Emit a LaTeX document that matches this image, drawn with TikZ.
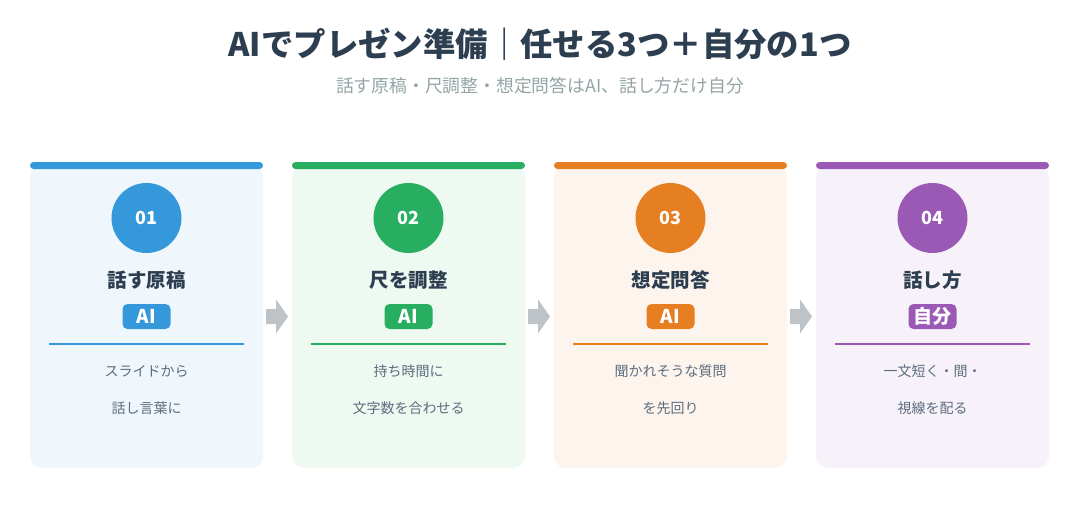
\documentclass[tikz,border=0pt]{standalone}
\usepackage{fontspec}
\setmainfont{Noto Sans CJK JP}
\usetikzlibrary{calc}
\definecolor{cA}{HTML}{3498DB}
\definecolor{cB}{HTML}{27AE60}
\definecolor{cC}{HTML}{E67E22}
\definecolor{cD}{HTML}{9B59B6}
\definecolor{titlec}{HTML}{2C3E50}
\definecolor{subc}{HTML}{95A5A6}
\definecolor{descc}{HTML}{5D6D7E}
\definecolor{arrc}{HTML}{BDC3C7}
\tikzset{
  cardtitle/.style={text=titlec,font=\bfseries\fontsize{19.5}{22}\selectfont,inner sep=0pt},
  badge/.style={fill=#1,text=white,rounded corners=5pt,minimum width=48pt,minimum height=25pt,inner sep=0pt,font=\bfseries\fontsize{19}{21}\selectfont},
  numcirc/.style={circle,fill=#1,text=white,minimum size=70pt,inner sep=0pt,font=\bfseries\fontsize{18}{20}\selectfont},
  desc/.style={text=descc,font=\fontsize{14}{16}\selectfont,inner sep=0pt},
  blockarrow/.style={fill=arrc,draw=none}
}
\newcommand{\card}[8]{%
  \pgfmathsetmacro{\L}{30+262*#1}
  \pgfmathsetmacro{\C}{\L+116.5}
  \fill[#2!8!white,rounded corners=12pt] (\L,165) rectangle (\L+233,468);
  \node[minimum width=233pt,minimum height=303pt,inner sep=0pt] (#8) at (\C,316.5) {};
  \fill[#2,rounded corners=3.5pt] (\L,162) rectangle (\L+233,169);
  \node[numcirc=#2] (#8n) at (\C,218) {#3};
  \node[cardtitle] (#8t) at (\C,280) {#4};
  \node[badge=#2] (#8b) at (\C,316.5) {#5};
  \draw[#2,line width=1.5pt] (\L+19,344) -- (\L+214,344);
  \node[desc] (#8d1) at (\C,371) {#6};
  \node[desc] (#8d2) at (\C,408) {#7};
}
\begin{document}
\begin{tikzpicture}[x=1pt,y=-1pt]
\useasboundingbox (0,0) rectangle (1080,504);
\fill[white] (0,0) rectangle (1080,504);
\node[text=titlec,font=\bfseries\fontsize{32.4}{36}\selectfont,inner sep=0pt] (title) at (540,44) {AIでプレゼン準備｜任せる3つ＋自分の1つ};
\node[text=subc,font=\fontsize{17.8}{20}\selectfont,inner sep=0pt] (sub) at (540,86) {話す原稿・尺調整・想定問答はAI、話し方だけ自分};
\card{0}{cA}{01}{話す原稿}{AI}{スライドから}{話し言葉に}{k1}
\card{1}{cB}{02}{尺を調整}{AI}{持ち時間に}{文字数を合わせる}{k2}
\card{2}{cC}{03}{想定問答}{AI}{聞かれそうな質問}{を先回り}{k3}
\card{3}{cD}{04}{話し方}{自分}{一文短く・間・}{視線を配る}{k4}
\foreach \a/\b in {k1/k2,k2/k3,k3/k4}{
  \path let \p1=(\a.east), \p2=(\b.west) in
    coordinate (m) at ($(\p1)!0.5!(\p2)$);
  \fill[blockarrow] ($(m)+(-11.5,-7.5)$) -- ($(m)+(-1.5,-7.5)$) -- ($(m)+(-1.5,-17)$) -- ($(m)+(10.5,0)$) -- ($(m)+(-1.5,17)$) -- ($(m)+(-1.5,7.5)$) -- ($(m)+(-11.5,7.5)$) -- cycle;
}
\end{tikzpicture}
\end{document}
